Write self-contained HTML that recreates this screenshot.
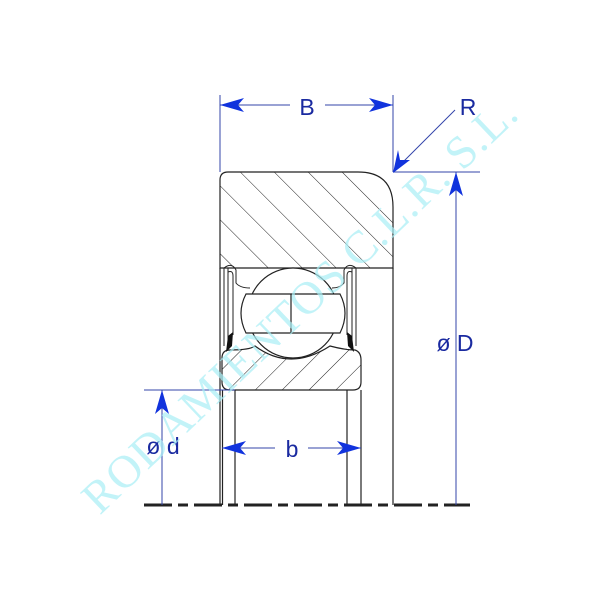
<!DOCTYPE html>
<html><head><meta charset="utf-8"><style>
html,body{margin:0;padding:0;background:#fff;}
svg{display:block;}
</style></head><body>
<svg width="600" height="600" viewBox="0 0 600 600" xmlns="http://www.w3.org/2000/svg">
<defs>
<pattern id="h1" patternUnits="userSpaceOnUse" width="24" height="24" patternTransform="rotate(-45)">
<line x1="0" y1="0" x2="0" y2="24" stroke="#222" stroke-width="1"/>
</pattern>
<pattern id="h2" patternUnits="userSpaceOnUse" width="19" height="19" patternTransform="rotate(45)">
<line x1="0" y1="0" x2="0" y2="19" stroke="#222" stroke-width="1"/>
</pattern>
</defs>

<!-- outer ring -->
<path d="M228 172 H358 Q393 172 393 207 V268 H220 V180 Q220 172 228 172 Z" fill="url(#h1)" stroke="#222" stroke-width="1.2"/>
<!-- inner ring -->
<path d="M230 350 Q250 350 255 346 Q290 372 330 346 Q345 350 355 350 Q361 352 361 360 V382 Q361 390 353 390 H230 Q222 390 222 382 V358 Q222 350 230 350 Z" fill="url(#h2)" stroke="#222" stroke-width="1.2"/>
<!-- ball -->
<circle cx="293" cy="313" r="45" fill="#fff" stroke="#222" stroke-width="1.2"/>
<path d="M246 294 H340 Q350 313 340 333 H246 Q236 313 246 294 Z" fill="#fff" stroke="#222" stroke-width="1.2"/>
<line x1="291" y1="294" x2="291" y2="333" stroke="#222" stroke-width="1.2"/>
<!-- seals / shields -->
<rect x="221" y="269" width="14" height="80" fill="#fff"/>
<rect x="347" y="269" width="14" height="80" fill="#fff"/>
<g fill="none" stroke="#222" stroke-width="1">
<path d="M224 268 V346 M228 268 V342 M224 268 Q232 262 236 270 V283 Q240 288 250 288"/>
<path d="M228 272 Q233 270 233 276 V335"/>
<path d="M356 268 V346 M352 268 V342 M356 268 Q348 262 344 270 V283 Q340 288 332 288"/>
<path d="M352 272 Q347 270 347 276 V335"/>
</g>
<path d="M228 336 L233 332 L232 346 L226 352 Z" fill="#111"/>
<path d="M352 336 L347 332 L348 346 L354 352 Z" fill="#111"/>

<!-- vertical lines below -->
<g stroke="#222" stroke-width="1.2">
<line x1="220" y1="268" x2="220" y2="505"/>
<line x1="222.5" y1="390" x2="222.5" y2="505"/>
<line x1="235" y1="390" x2="235" y2="505"/>
<line x1="347" y1="390" x2="347" y2="505"/>
<line x1="361" y1="390" x2="361" y2="505"/>
<line x1="393" y1="268" x2="393" y2="505"/>
</g>
<!-- baseline dashed -->
<line x1="144" y1="505" x2="470" y2="505" stroke="#222" stroke-width="3" stroke-dasharray="28,6,10,6"/>

<!-- dimension lines -->
<g stroke="#3344aa" stroke-width="1" fill="none">
<line x1="220" y1="95" x2="220" y2="172"/>
<line x1="393" y1="95" x2="393" y2="172"/>
<line x1="220" y1="105" x2="290" y2="105"/>
<line x1="325" y1="105" x2="393" y2="105"/>
<line x1="393" y1="172" x2="480" y2="172"/>
<line x1="456" y1="172" x2="456" y2="505"/>
<line x1="144" y1="390" x2="235" y2="390"/>
<line x1="162" y1="390" x2="162" y2="505"/>
<line x1="222" y1="448" x2="275" y2="448"/>
<line x1="308" y1="448" x2="361" y2="448"/>
<line x1="455" y1="110" x2="394" y2="171"/>
</g>
<g fill="#1133dd">
<path d="M220 105 L244 98 L238 105 L244 112 Z"/>
<path d="M393 105 L369 98 L375 105 L369 112 Z"/>
<path d="M456 172 L449 196 L456 190 L463 196 Z"/>
<path d="M162 390 L155 414 L162 408 L169 414 Z"/>
<path d="M222 448 L246 441 L240 448 L246 455 Z"/>
<path d="M361 448 L337 441 L343 448 L337 455 Z"/>
<path d="M393 173 L398 150 L400 160 L410 160 Z"/>
</g>
<g font-family="Liberation Sans, sans-serif" font-size="23" fill="#1a2aa0">
<text x="307" y="115" text-anchor="middle">B</text>
<text x="468" y="115" text-anchor="middle">R</text>
<text x="455" y="351" text-anchor="middle">ø D</text>
<text x="163" y="454" text-anchor="middle">ø d</text>
<text x="292" y="457" text-anchor="middle">b</text>
</g>
<!-- watermark -->
<text x="300" y="320" text-anchor="middle" transform="rotate(-43.5 300 305)" font-family="Liberation Serif, serif" font-size="46" fill="#a8eef5" fill-opacity="0.7" letter-spacing="1">RODAMIENTOS C.L.R. S.L.</text>
</svg>
</body></html>
